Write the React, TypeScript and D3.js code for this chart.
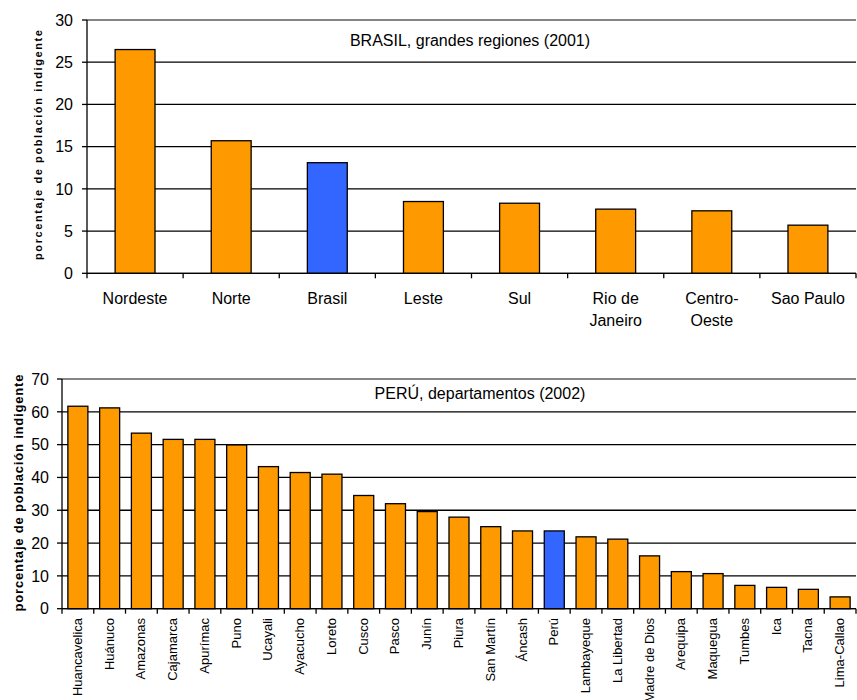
import React from "react";
import * as d3 from "d3";

const brasilRegions = ["Nordeste", "Norte", "Brasil", "Leste", "Sul", "Rio de\nJaneiro", "Centro-\nOeste", "Sao Paulo"];
const brasilValues = [26.5, 15.7, 13.1, 8.5, 8.3, 7.6, 7.4, 5.7];
const brasilTicks = [0, 5, 10, 15, 20, 25, 30];
const brasilHighlight = "Brasil";

const peruDepartments = [
  "Huancavelica", "Huánuco", "Amazonas", "Cajamarca", "Apurímac", "Puno", "Ucayali",
  "Ayacucho", "Loreto", "Cusco", "Pasco", "Junín", "Piura", "San Martín", "Áncash",
  "Perú", "Lambayeque", "La Libertad", "Madre de Dios", "Arequipa", "Maquegua",
  "Tumbes", "Ica", "Tacna", "Lima-Callao",
];
const peruValues = [
  61.7, 61.2, 53.5, 51.6, 51.6, 49.9, 43.3, 41.5, 41.0, 34.5, 32.0, 29.6, 27.9,
  25.0, 23.7, 23.7, 21.9, 21.2, 16.1, 11.3, 10.7, 7.1, 6.5, 5.9, 3.6,
];
const peruTicks = [0, 10, 20, 30, 40, 50, 60, 70];
const peruHighlight = "Perú";

const ORANGE = "#FF9900";
const BLUE = "#3366FF";
const FONT = "'Liberation Sans', Arial, Helvetica, sans-serif";

type PanelProps = {
  cats: string[];
  values: number[];
  ticks: number[];
  highlight: string;
  x0: number;
  x1: number;
  yTop: number;
  yZero: number;
  barFrac: number;
  title: string;
  titleX: number;
  titleY: number;
  yTitleX: number;
  yTitleY: number;
  yTitleSize: number;
  yTitleLen: number;
  tickLabelX: number;
  rotated: boolean;
  labelY: number;
  labelSize: number;
};

function Panel(p: PanelProps) {
  const max = p.ticks[p.ticks.length - 1];
  const y = d3.scaleLinear().domain([0, max]).range([p.yZero, p.yTop]);
  const pi = 1 - p.barFrac;
  const x = d3.scaleBand<string>().domain(p.cats).range([p.x0, p.x1]).paddingInner(pi).paddingOuter(pi / 2);
  const step = x.step();
  const bounds = d3.range(p.cats.length + 1).map((i) => p.x0 + i * step);
  return (
    <g fontFamily={FONT}>
      {p.ticks.map((t) => (
        <line
          key={"g" + t}
          x1={p.x0}
          x2={p.x1}
          y1={y(t)}
          y2={y(t)}
          stroke={t === max ? "#858585" : "#000"}
          strokeWidth={t === max ? 2 : 1.3}
        />
      ))}
      {p.cats.map((c, i) => (
        <rect
          key={"b" + c}
          x={x(c)}
          y={y(p.values[i])}
          width={x.bandwidth()}
          height={y(0) - y(p.values[i])}
          fill={c === p.highlight ? BLUE : ORANGE}
          stroke="#000"
          strokeWidth={1.3}
        />
      ))}
      <line x1={p.x0} x2={p.x0} y1={p.yTop} y2={p.yZero} stroke="#000" strokeWidth={1.3} />
      <line x1={p.x0} x2={p.x1} y1={p.yZero} y2={p.yZero} stroke="#000" strokeWidth={1.3} />
      {p.ticks.map((t) => (
        <g key={"t" + t}>
          <line x1={p.x0 - 5} x2={p.x0} y1={y(t)} y2={y(t)} stroke="#000" strokeWidth={1.3} />
          <text x={p.tickLabelX} y={y(t)} dy="0.36em" textAnchor="end" fontSize={16}>
            {t}
          </text>
        </g>
      ))}
      {bounds.map((b, i) => (
        <line key={"xt" + i} x1={b} x2={b} y1={p.yZero} y2={p.yZero + 5} stroke="#000" strokeWidth={1.3} />
      ))}
      {p.cats.map((c) => {
        const cx = (x(c) as number) + x.bandwidth() / 2;
        if (p.rotated) {
          return (
            <text
              key={"l" + c}
              transform={`translate(${cx + 4},${p.labelY}) rotate(-90)`}
              textAnchor="end"
              fontSize={p.labelSize}
            >
              {c}
            </text>
          );
        }
        const lines = c.split("\n");
        return (
          <text key={"l" + c} x={cx} y={p.labelY} textAnchor="middle" fontSize={p.labelSize}>
            {lines.map((ln, j) => (
              <tspan key={j} x={cx} dy={j === 0 ? 0 : 22}>
                {ln}
              </tspan>
            ))}
          </text>
        );
      })}
      <text x={p.titleX} y={p.titleY} textAnchor="middle" fontSize={16}>
        {p.title}
      </text>
      <text
        transform={`translate(${p.yTitleX},${p.yTitleY}) rotate(-90)`}
        textAnchor="middle"
        fontSize={p.yTitleSize}
        fontWeight="bold"
        textLength={p.yTitleLen}
        lengthAdjust="spacing"
      >
        porcentaje de población indigente
      </text>
    </g>
  );
}

export default function App() {
  return (
    <svg
      width={857}
      height={700}
      style={{ position: "absolute", left: 0, top: 0, background: "#fff" }}
    >
      <rect width={857} height={700} fill="#fff" />
      <Panel
        cats={brasilRegions}
        values={brasilValues}
        ticks={brasilTicks}
        highlight={brasilHighlight}
        x0={87}
        x1={856}
        yTop={20}
        yZero={273.3}
        barFrac={0.415}
        title="BRASIL, grandes regiones (2001)"
        titleX={470}
        titleY={46}
        yTitleX={42}
        yTitleY={145}
        yTitleSize={11}
        yTitleLen={230}
        tickLabelX={73}
        rotated={false}
        labelY={304}
        labelSize={16}
      />
      <Panel
        cats={peruDepartments}
        values={peruValues}
        ticks={peruTicks}
        highlight={peruHighlight}
        x0={62}
        x1={856}
        yTop={379}
        yZero={608.7}
        barFrac={0.63}
        title="PERÚ, departamentos (2002)"
        titleX={480}
        titleY={399}
        yTitleX={23}
        yTitleY={493}
        yTitleSize={13}
        yTitleLen={237}
        tickLabelX={49}
        rotated={true}
        labelY={618}
        labelSize={13}
      />
    </svg>
  );
}
